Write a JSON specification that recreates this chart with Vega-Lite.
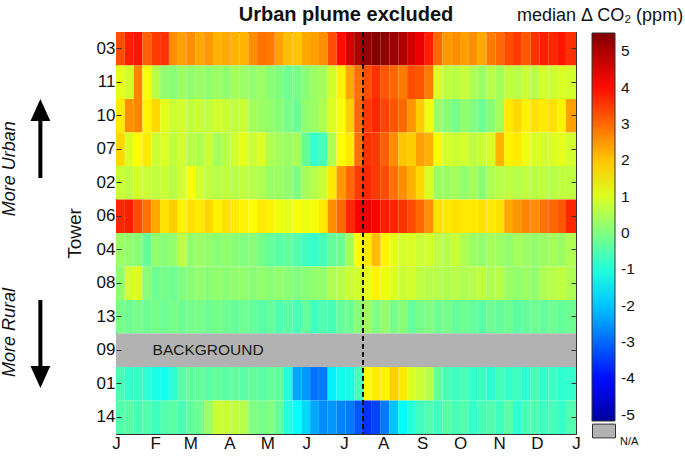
{
"$schema":"https://vega.github.io/schema/vega-lite/v6.json",
"width":460,"height":402,
"autosize":{"type":"none"},
"padding":{"left":116,"top":32,"right":109,"bottom":26},
"background":"white",
"title":{"text":"Urban plume excluded","fontSize":20,"fontWeight":"bold","font":"Liberation Sans","color":"#111","offset":0,"dy":18,"anchor":"middle"},
"config":{"view":{"stroke":"#333","strokeWidth":1},"axis":{"grid":false,"domain":false,"labelFont":"Liberation Sans","labelFontSize":17,"labelColor":"#111","tickColor":"#333","tickSize":-5,"titleFont":"Liberation Sans","titleFontWeight":"normal","titleColor":"#111"}},
"datasets":{
"cells":[
{"t":"03","a":0,"b":7,"v":3.3},{"t":"03","a":7,"b":14,"v":3.8},{"t":"03","a":14,"b":21,"v":3.9},{"t":"03","a":21,"b":28,"v":3.1},{"t":"03","a":28,"b":35,"v":3.5},{"t":"03","a":35,"b":42,"v":3.6},{"t":"03","a":42,"b":49,"v":2.6},{"t":"03","a":49,"b":56,"v":2.4},{"t":"03","a":56,"b":63,"v":2.6},{"t":"03","a":63,"b":70,"v":2.3},{"t":"03","a":70,"b":77,"v":2.5},{"t":"03","a":77,"b":84,"v":2.2},{"t":"03","a":84,"b":91,"v":2.3},{"t":"03","a":91,"b":98,"v":2.2},{"t":"03","a":98,"b":105,"v":2.2},{"t":"03","a":105,"b":112,"v":2.6},{"t":"03","a":112,"b":119,"v":2.9},{"t":"03","a":119,"b":126,"v":2.8},{"t":"03","a":126,"b":133,"v":2.4},{"t":"03","a":133,"b":140,"v":2.1},{"t":"03","a":140,"b":147,"v":2.0},{"t":"03","a":147,"b":154,"v":2.3},{"t":"03","a":154,"b":161,"v":2.4},{"t":"03","a":161,"b":168,"v":2.6},{"t":"03","a":168,"b":175,"v":3.3},{"t":"03","a":175,"b":182,"v":4.0},{"t":"03","a":182,"b":189,"v":4.6},{"t":"03","a":189,"b":196,"v":5.0},{"t":"03","a":196,"b":203,"v":5.3},{"t":"03","a":203,"b":210,"v":5.4},{"t":"03","a":210,"b":217,"v":5.3},{"t":"03","a":217,"b":224,"v":5.2},{"t":"03","a":224,"b":231,"v":5.0},{"t":"03","a":231,"b":238,"v":4.6},{"t":"03","a":238,"b":245,"v":4.3},{"t":"03","a":245,"b":252,"v":3.8},{"t":"03","a":252,"b":259,"v":3.0},{"t":"03","a":259,"b":266,"v":2.5},{"t":"03","a":266,"b":273,"v":2.6},{"t":"03","a":273,"b":280,"v":2.4},{"t":"03","a":280,"b":287,"v":2.6},{"t":"03","a":287,"b":294,"v":2.3},{"t":"03","a":294,"b":301,"v":2.8},{"t":"03","a":301,"b":308,"v":3.0},{"t":"03","a":308,"b":315,"v":3.3},{"t":"03","a":315,"b":322,"v":3.5},{"t":"03","a":322,"b":329,"v":3.2},{"t":"03","a":329,"b":336,"v":3.6},{"t":"03","a":336,"b":343,"v":3.8},{"t":"03","a":343,"b":350,"v":3.7},{"t":"03","a":350,"b":357,"v":3.9},{"t":"03","a":357,"b":365,"v":3.6},
{"t":"11","a":0,"b":7,"v":1.1},{"t":"11","a":7,"b":14,"v":0.9},{"t":"11","a":14,"b":21,"v":2.7},{"t":"11","a":21,"b":28,"v":1.3},{"t":"11","a":28,"b":35,"v":0.6},{"t":"11","a":35,"b":42,"v":0.2},{"t":"11","a":42,"b":49,"v":0.1},{"t":"11","a":49,"b":56,"v":0.3},{"t":"11","a":56,"b":63,"v":0.2},{"t":"11","a":63,"b":70,"v":0.3},{"t":"11","a":70,"b":77,"v":0.2},{"t":"11","a":77,"b":84,"v":0.3},{"t":"11","a":84,"b":91,"v":0.2},{"t":"11","a":91,"b":98,"v":0.4},{"t":"11","a":98,"b":105,"v":0.3},{"t":"11","a":105,"b":112,"v":0.2},{"t":"11","a":112,"b":119,"v":0.3},{"t":"11","a":119,"b":126,"v":0.1},{"t":"11","a":126,"b":133,"v":0.0},{"t":"11","a":133,"b":140,"v":-0.2},{"t":"11","a":140,"b":147,"v":-0.1},{"t":"11","a":147,"b":154,"v":0.1},{"t":"11","a":154,"b":161,"v":0.3},{"t":"11","a":161,"b":168,"v":0.4},{"t":"11","a":168,"b":175,"v":0.9},{"t":"11","a":175,"b":182,"v":1.5},{"t":"11","a":182,"b":189,"v":2.3},{"t":"11","a":189,"b":196,"v":2.9},{"t":"11","a":196,"b":203,"v":3.3},{"t":"11","a":203,"b":210,"v":3.6},{"t":"11","a":210,"b":217,"v":3.2},{"t":"11","a":217,"b":224,"v":3.0},{"t":"11","a":224,"b":231,"v":2.8},{"t":"11","a":231,"b":238,"v":3.3},{"t":"11","a":238,"b":245,"v":3.2},{"t":"11","a":245,"b":252,"v":2.8},{"t":"11","a":252,"b":259,"v":1.0},{"t":"11","a":259,"b":266,"v":0.7},{"t":"11","a":266,"b":273,"v":0.6},{"t":"11","a":273,"b":280,"v":0.8},{"t":"11","a":280,"b":287,"v":0.5},{"t":"11","a":287,"b":294,"v":0.3},{"t":"11","a":294,"b":301,"v":0.6},{"t":"11","a":301,"b":308,"v":0.4},{"t":"11","a":308,"b":315,"v":0.7},{"t":"11","a":315,"b":322,"v":0.6},{"t":"11","a":322,"b":329,"v":0.8},{"t":"11","a":329,"b":336,"v":0.6},{"t":"11","a":336,"b":343,"v":0.9},{"t":"11","a":343,"b":350,"v":0.8},{"t":"11","a":350,"b":357,"v":1.0},{"t":"11","a":357,"b":365,"v":0.9},
{"t":"10","a":0,"b":7,"v":1.6},{"t":"10","a":7,"b":14,"v":2.6},{"t":"10","a":14,"b":21,"v":2.7},{"t":"10","a":21,"b":28,"v":1.5},{"t":"10","a":28,"b":35,"v":1.8},{"t":"10","a":35,"b":42,"v":1.1},{"t":"10","a":42,"b":49,"v":0.8},{"t":"10","a":49,"b":56,"v":0.9},{"t":"10","a":56,"b":63,"v":0.7},{"t":"10","a":63,"b":70,"v":0.8},{"t":"10","a":70,"b":77,"v":0.7},{"t":"10","a":77,"b":84,"v":0.9},{"t":"10","a":84,"b":91,"v":0.8},{"t":"10","a":91,"b":98,"v":0.7},{"t":"10","a":98,"b":105,"v":0.8},{"t":"10","a":105,"b":112,"v":0.4},{"t":"10","a":112,"b":119,"v":0.3},{"t":"10","a":119,"b":126,"v":0.2},{"t":"10","a":126,"b":133,"v":0.1},{"t":"10","a":133,"b":140,"v":-0.1},{"t":"10","a":140,"b":147,"v":-0.2},{"t":"10","a":147,"b":154,"v":0.2},{"t":"10","a":154,"b":161,"v":0.3},{"t":"10","a":161,"b":168,"v":0.5},{"t":"10","a":168,"b":175,"v":1.0},{"t":"10","a":175,"b":182,"v":1.3},{"t":"10","a":182,"b":189,"v":1.9},{"t":"10","a":189,"b":196,"v":3.0},{"t":"10","a":196,"b":203,"v":3.5},{"t":"10","a":203,"b":210,"v":3.7},{"t":"10","a":210,"b":217,"v":3.4},{"t":"10","a":217,"b":224,"v":3.2},{"t":"10","a":224,"b":231,"v":3.0},{"t":"10","a":231,"b":238,"v":2.5},{"t":"10","a":238,"b":245,"v":1.9},{"t":"10","a":245,"b":252,"v":1.2},{"t":"10","a":252,"b":259,"v":0.3},{"t":"10","a":259,"b":266,"v":0.1},{"t":"10","a":266,"b":273,"v":-0.1},{"t":"10","a":273,"b":280,"v":0.2},{"t":"10","a":280,"b":287,"v":0.0},{"t":"10","a":287,"b":294,"v":-0.2},{"t":"10","a":294,"b":301,"v":0.1},{"t":"10","a":301,"b":308,"v":0.4},{"t":"10","a":308,"b":315,"v":1.6},{"t":"10","a":315,"b":322,"v":1.8},{"t":"10","a":322,"b":329,"v":1.5},{"t":"10","a":329,"b":336,"v":1.7},{"t":"10","a":336,"b":343,"v":1.6},{"t":"10","a":343,"b":350,"v":1.7},{"t":"10","a":350,"b":357,"v":1.5},{"t":"10","a":357,"b":365,"v":2.4},
{"t":"07","a":0,"b":7,"v":1.8},{"t":"07","a":7,"b":14,"v":1.0},{"t":"07","a":14,"b":21,"v":1.4},{"t":"07","a":21,"b":28,"v":1.6},{"t":"07","a":28,"b":35,"v":0.8},{"t":"07","a":35,"b":42,"v":1.0},{"t":"07","a":42,"b":49,"v":0.7},{"t":"07","a":49,"b":56,"v":0.9},{"t":"07","a":56,"b":63,"v":0.6},{"t":"07","a":63,"b":70,"v":0.5},{"t":"07","a":70,"b":77,"v":0.8},{"t":"07","a":77,"b":84,"v":0.4},{"t":"07","a":84,"b":91,"v":0.6},{"t":"07","a":91,"b":98,"v":0.9},{"t":"07","a":98,"b":105,"v":1.1},{"t":"07","a":105,"b":112,"v":0.8},{"t":"07","a":112,"b":119,"v":1.0},{"t":"07","a":119,"b":126,"v":0.5},{"t":"07","a":126,"b":133,"v":0.4},{"t":"07","a":133,"b":140,"v":0.3},{"t":"07","a":140,"b":147,"v":0.4},{"t":"07","a":147,"b":154,"v":-0.3},{"t":"07","a":154,"b":161,"v":-0.8},{"t":"07","a":161,"b":168,"v":-0.6},{"t":"07","a":168,"b":175,"v":0.5},{"t":"07","a":175,"b":182,"v":1.4},{"t":"07","a":182,"b":189,"v":1.6},{"t":"07","a":189,"b":196,"v":2.9},{"t":"07","a":196,"b":203,"v":3.6},{"t":"07","a":203,"b":210,"v":3.5},{"t":"07","a":210,"b":217,"v":3.1},{"t":"07","a":217,"b":224,"v":2.6},{"t":"07","a":224,"b":231,"v":2.0},{"t":"07","a":231,"b":238,"v":1.9},{"t":"07","a":238,"b":245,"v":2.4},{"t":"07","a":245,"b":252,"v":2.2},{"t":"07","a":252,"b":259,"v":1.4},{"t":"07","a":259,"b":266,"v":0.9},{"t":"07","a":266,"b":273,"v":0.8},{"t":"07","a":273,"b":280,"v":0.9},{"t":"07","a":280,"b":287,"v":0.7},{"t":"07","a":287,"b":294,"v":0.8},{"t":"07","a":294,"b":301,"v":1.0},{"t":"07","a":301,"b":308,"v":2.2},{"t":"07","a":308,"b":315,"v":1.5},{"t":"07","a":315,"b":322,"v":1.6},{"t":"07","a":322,"b":329,"v":1.2},{"t":"07","a":329,"b":336,"v":1.0},{"t":"07","a":336,"b":343,"v":0.9},{"t":"07","a":343,"b":350,"v":1.0},{"t":"07","a":350,"b":357,"v":1.1},{"t":"07","a":357,"b":365,"v":0.9},
{"t":"02","a":0,"b":7,"v":0.8},{"t":"02","a":7,"b":14,"v":0.7},{"t":"02","a":14,"b":21,"v":0.9},{"t":"02","a":21,"b":28,"v":0.8},{"t":"02","a":28,"b":35,"v":0.7},{"t":"02","a":35,"b":42,"v":0.8},{"t":"02","a":42,"b":49,"v":0.6},{"t":"02","a":49,"b":56,"v":0.9},{"t":"02","a":56,"b":63,"v":1.3},{"t":"02","a":63,"b":70,"v":0.9},{"t":"02","a":70,"b":77,"v":0.7},{"t":"02","a":77,"b":84,"v":0.6},{"t":"02","a":84,"b":91,"v":0.7},{"t":"02","a":91,"b":98,"v":0.6},{"t":"02","a":98,"b":105,"v":0.7},{"t":"02","a":105,"b":112,"v":0.6},{"t":"02","a":112,"b":119,"v":0.5},{"t":"02","a":119,"b":126,"v":0.3},{"t":"02","a":126,"b":133,"v":0.3},{"t":"02","a":133,"b":140,"v":0.2},{"t":"02","a":140,"b":147,"v":0.0},{"t":"02","a":147,"b":154,"v":0.4},{"t":"02","a":154,"b":161,"v":0.6},{"t":"02","a":161,"b":168,"v":0.8},{"t":"02","a":168,"b":175,"v":1.6},{"t":"02","a":175,"b":182,"v":2.5},{"t":"02","a":182,"b":189,"v":3.0},{"t":"02","a":189,"b":196,"v":3.5},{"t":"02","a":196,"b":203,"v":3.7},{"t":"02","a":203,"b":210,"v":3.5},{"t":"02","a":210,"b":217,"v":3.3},{"t":"02","a":217,"b":224,"v":2.9},{"t":"02","a":224,"b":231,"v":2.6},{"t":"02","a":231,"b":238,"v":2.2},{"t":"02","a":238,"b":245,"v":1.8},{"t":"02","a":245,"b":252,"v":1.0},{"t":"02","a":252,"b":259,"v":0.3},{"t":"02","a":259,"b":266,"v":0.3},{"t":"02","a":266,"b":273,"v":0.4},{"t":"02","a":273,"b":280,"v":0.2},{"t":"02","a":280,"b":287,"v":0.4},{"t":"02","a":287,"b":294,"v":0.1},{"t":"02","a":294,"b":301,"v":0.5},{"t":"02","a":301,"b":308,"v":0.6},{"t":"02","a":308,"b":315,"v":0.7},{"t":"02","a":315,"b":322,"v":0.6},{"t":"02","a":322,"b":329,"v":0.7},{"t":"02","a":329,"b":336,"v":0.6},{"t":"02","a":336,"b":343,"v":0.7},{"t":"02","a":343,"b":350,"v":0.6},{"t":"02","a":350,"b":357,"v":0.7},{"t":"02","a":357,"b":365,"v":0.7},
{"t":"06","a":0,"b":7,"v":3.7},{"t":"06","a":7,"b":14,"v":3.8},{"t":"06","a":14,"b":21,"v":3.3},{"t":"06","a":21,"b":28,"v":2.9},{"t":"06","a":28,"b":35,"v":2.3},{"t":"06","a":35,"b":42,"v":1.7},{"t":"06","a":42,"b":49,"v":1.9},{"t":"06","a":49,"b":56,"v":1.5},{"t":"06","a":56,"b":63,"v":1.7},{"t":"06","a":63,"b":70,"v":1.6},{"t":"06","a":70,"b":77,"v":1.8},{"t":"06","a":77,"b":84,"v":1.5},{"t":"06","a":84,"b":91,"v":1.7},{"t":"06","a":91,"b":98,"v":1.6},{"t":"06","a":98,"b":105,"v":1.5},{"t":"06","a":105,"b":112,"v":1.4},{"t":"06","a":112,"b":119,"v":1.6},{"t":"06","a":119,"b":126,"v":1.5},{"t":"06","a":126,"b":133,"v":1.2},{"t":"06","a":133,"b":140,"v":1.1},{"t":"06","a":140,"b":147,"v":1.3},{"t":"06","a":147,"b":154,"v":1.2},{"t":"06","a":154,"b":161,"v":1.3},{"t":"06","a":161,"b":168,"v":1.6},{"t":"06","a":168,"b":175,"v":2.6},{"t":"06","a":175,"b":182,"v":3.0},{"t":"06","a":182,"b":189,"v":3.7},{"t":"06","a":189,"b":196,"v":4.1},{"t":"06","a":196,"b":203,"v":4.3},{"t":"06","a":203,"b":210,"v":4.1},{"t":"06","a":210,"b":217,"v":3.8},{"t":"06","a":217,"b":224,"v":3.7},{"t":"06","a":224,"b":231,"v":3.6},{"t":"06","a":231,"b":238,"v":3.3},{"t":"06","a":238,"b":245,"v":3.0},{"t":"06","a":245,"b":252,"v":2.6},{"t":"06","a":252,"b":259,"v":1.7},{"t":"06","a":259,"b":266,"v":1.6},{"t":"06","a":266,"b":273,"v":1.7},{"t":"06","a":273,"b":280,"v":1.6},{"t":"06","a":280,"b":287,"v":1.6},{"t":"06","a":287,"b":294,"v":1.7},{"t":"06","a":294,"b":301,"v":1.6},{"t":"06","a":301,"b":308,"v":1.7},{"t":"06","a":308,"b":315,"v":2.3},{"t":"06","a":315,"b":322,"v":2.5},{"t":"06","a":322,"b":329,"v":2.7},{"t":"06","a":329,"b":336,"v":2.6},{"t":"06","a":336,"b":343,"v":2.9},{"t":"06","a":343,"b":350,"v":3.0},{"t":"06","a":350,"b":357,"v":3.2},{"t":"06","a":357,"b":365,"v":3.7},
{"t":"04","a":0,"b":7,"v":0.3},{"t":"04","a":7,"b":14,"v":0.2},{"t":"04","a":14,"b":21,"v":0.1},{"t":"04","a":21,"b":28,"v":-0.3},{"t":"04","a":28,"b":35,"v":0.2},{"t":"04","a":35,"b":42,"v":0.1},{"t":"04","a":42,"b":49,"v":0.2},{"t":"04","a":49,"b":56,"v":0.7},{"t":"04","a":56,"b":63,"v":0.2},{"t":"04","a":63,"b":70,"v":0.3},{"t":"04","a":70,"b":77,"v":0.2},{"t":"04","a":77,"b":84,"v":0.1},{"t":"04","a":84,"b":91,"v":0.2},{"t":"04","a":91,"b":98,"v":0.1},{"t":"04","a":98,"b":105,"v":0.0},{"t":"04","a":105,"b":112,"v":0.1},{"t":"04","a":112,"b":119,"v":-0.1},{"t":"04","a":119,"b":126,"v":-0.3},{"t":"04","a":126,"b":133,"v":-0.4},{"t":"04","a":133,"b":140,"v":-0.3},{"t":"04","a":140,"b":147,"v":-0.5},{"t":"04","a":147,"b":154,"v":-0.7},{"t":"04","a":154,"b":161,"v":-0.8},{"t":"04","a":161,"b":168,"v":-0.6},{"t":"04","a":168,"b":175,"v":-0.3},{"t":"04","a":175,"b":182,"v":-0.2},{"t":"04","a":182,"b":189,"v":0.4},{"t":"04","a":189,"b":196,"v":1.4},{"t":"04","a":196,"b":203,"v":1.6},{"t":"04","a":203,"b":210,"v":2.1},{"t":"04","a":210,"b":217,"v":1.5},{"t":"04","a":217,"b":224,"v":1.1},{"t":"04","a":224,"b":231,"v":0.9},{"t":"04","a":231,"b":238,"v":1.0},{"t":"04","a":238,"b":245,"v":0.8},{"t":"04","a":245,"b":252,"v":0.9},{"t":"04","a":252,"b":259,"v":0.7},{"t":"04","a":259,"b":266,"v":0.6},{"t":"04","a":266,"b":273,"v":0.8},{"t":"04","a":273,"b":280,"v":0.5},{"t":"04","a":280,"b":287,"v":0.3},{"t":"04","a":287,"b":294,"v":0.2},{"t":"04","a":294,"b":301,"v":0.4},{"t":"04","a":301,"b":308,"v":0.3},{"t":"04","a":308,"b":315,"v":0.2},{"t":"04","a":315,"b":322,"v":0.4},{"t":"04","a":322,"b":329,"v":0.3},{"t":"04","a":329,"b":336,"v":0.2},{"t":"04","a":336,"b":343,"v":0.3},{"t":"04","a":343,"b":350,"v":0.4},{"t":"04","a":350,"b":357,"v":0.3},{"t":"04","a":357,"b":365,"v":0.5},
{"t":"08","a":0,"b":7,"v":0.2},{"t":"08","a":7,"b":14,"v":0.9},{"t":"08","a":14,"b":21,"v":1.0},{"t":"08","a":21,"b":28,"v":0.1},{"t":"08","a":28,"b":35,"v":-0.2},{"t":"08","a":35,"b":42,"v":-0.1},{"t":"08","a":42,"b":49,"v":-0.2},{"t":"08","a":49,"b":56,"v":0.0},{"t":"08","a":56,"b":63,"v":0.1},{"t":"08","a":63,"b":70,"v":0.2},{"t":"08","a":70,"b":77,"v":0.1},{"t":"08","a":77,"b":84,"v":0.2},{"t":"08","a":84,"b":91,"v":0.1},{"t":"08","a":91,"b":98,"v":0.2},{"t":"08","a":98,"b":105,"v":0.2},{"t":"08","a":105,"b":112,"v":0.1},{"t":"08","a":112,"b":119,"v":0.2},{"t":"08","a":119,"b":126,"v":0.1},{"t":"08","a":126,"b":133,"v":0.2},{"t":"08","a":133,"b":140,"v":0.1},{"t":"08","a":140,"b":147,"v":0.0},{"t":"08","a":147,"b":154,"v":0.1},{"t":"08","a":154,"b":161,"v":0.2},{"t":"08","a":161,"b":168,"v":0.2},{"t":"08","a":168,"b":175,"v":0.5},{"t":"08","a":175,"b":182,"v":0.6},{"t":"08","a":182,"b":189,"v":0.8},{"t":"08","a":189,"b":196,"v":0.9},{"t":"08","a":196,"b":203,"v":1.1},{"t":"08","a":203,"b":210,"v":1.5},{"t":"08","a":210,"b":217,"v":1.2},{"t":"08","a":217,"b":224,"v":1.0},{"t":"08","a":224,"b":231,"v":0.8},{"t":"08","a":231,"b":238,"v":0.9},{"t":"08","a":238,"b":245,"v":0.7},{"t":"08","a":245,"b":252,"v":0.6},{"t":"08","a":252,"b":259,"v":0.6},{"t":"08","a":259,"b":266,"v":0.5},{"t":"08","a":266,"b":273,"v":0.6},{"t":"08","a":273,"b":280,"v":0.5},{"t":"08","a":280,"b":287,"v":0.6},{"t":"08","a":287,"b":294,"v":0.7},{"t":"08","a":294,"b":301,"v":0.5},{"t":"08","a":301,"b":308,"v":0.6},{"t":"08","a":308,"b":315,"v":0.3},{"t":"08","a":315,"b":322,"v":0.2},{"t":"08","a":322,"b":329,"v":0.3},{"t":"08","a":329,"b":336,"v":0.2},{"t":"08","a":336,"b":343,"v":0.5},{"t":"08","a":343,"b":350,"v":0.6},{"t":"08","a":350,"b":357,"v":0.7},{"t":"08","a":357,"b":365,"v":0.5},
{"t":"13","a":0,"b":7,"v":-0.1},{"t":"13","a":7,"b":14,"v":-0.2},{"t":"13","a":14,"b":21,"v":-0.1},{"t":"13","a":21,"b":28,"v":-0.2},{"t":"13","a":28,"b":35,"v":-0.1},{"t":"13","a":35,"b":42,"v":-0.2},{"t":"13","a":42,"b":49,"v":-0.1},{"t":"13","a":49,"b":56,"v":-0.2},{"t":"13","a":56,"b":63,"v":-0.1},{"t":"13","a":63,"b":70,"v":-0.1},{"t":"13","a":70,"b":77,"v":-0.2},{"t":"13","a":77,"b":84,"v":-0.1},{"t":"13","a":84,"b":91,"v":-0.2},{"t":"13","a":91,"b":98,"v":-0.3},{"t":"13","a":98,"b":105,"v":-0.2},{"t":"13","a":105,"b":112,"v":-0.3},{"t":"13","a":112,"b":119,"v":-0.4},{"t":"13","a":119,"b":126,"v":-0.3},{"t":"13","a":126,"b":133,"v":-0.5},{"t":"13","a":133,"b":140,"v":-0.4},{"t":"13","a":140,"b":147,"v":-0.6},{"t":"13","a":147,"b":154,"v":-0.3},{"t":"13","a":154,"b":161,"v":-0.7},{"t":"13","a":161,"b":168,"v":-0.5},{"t":"13","a":168,"b":175,"v":-0.6},{"t":"13","a":175,"b":182,"v":-0.3},{"t":"13","a":182,"b":189,"v":-0.2},{"t":"13","a":189,"b":196,"v":0.1},{"t":"13","a":196,"b":203,"v":0.3},{"t":"13","a":203,"b":210,"v":0.0},{"t":"13","a":210,"b":217,"v":0.2},{"t":"13","a":217,"b":224,"v":-0.1},{"t":"13","a":224,"b":231,"v":0.1},{"t":"13","a":231,"b":238,"v":-0.3},{"t":"13","a":238,"b":245,"v":-0.1},{"t":"13","a":245,"b":252,"v":0.0},{"t":"13","a":252,"b":259,"v":-0.2},{"t":"13","a":259,"b":266,"v":-0.1},{"t":"13","a":266,"b":273,"v":-0.3},{"t":"13","a":273,"b":280,"v":-0.2},{"t":"13","a":280,"b":287,"v":-0.3},{"t":"13","a":287,"b":294,"v":-0.4},{"t":"13","a":294,"b":301,"v":-0.2},{"t":"13","a":301,"b":308,"v":-0.3},{"t":"13","a":308,"b":315,"v":-0.2},{"t":"13","a":315,"b":322,"v":-0.4},{"t":"13","a":322,"b":329,"v":-0.3},{"t":"13","a":329,"b":336,"v":-0.2},{"t":"13","a":336,"b":343,"v":-0.3},{"t":"13","a":343,"b":350,"v":-0.2},{"t":"13","a":350,"b":357,"v":-0.3},{"t":"13","a":357,"b":365,"v":-0.2},
{"t":"01","a":0,"b":7,"v":-0.6},{"t":"01","a":7,"b":14,"v":-0.8},{"t":"01","a":14,"b":21,"v":-0.7},{"t":"01","a":21,"b":28,"v":-0.9},{"t":"01","a":28,"b":35,"v":-1.1},{"t":"01","a":35,"b":42,"v":-1.2},{"t":"01","a":42,"b":49,"v":-0.9},{"t":"01","a":49,"b":56,"v":-0.4},{"t":"01","a":56,"b":63,"v":-0.3},{"t":"01","a":63,"b":70,"v":-0.3},{"t":"01","a":70,"b":77,"v":-0.4},{"t":"01","a":77,"b":84,"v":-0.3},{"t":"01","a":84,"b":91,"v":-0.4},{"t":"01","a":91,"b":98,"v":-0.3},{"t":"01","a":98,"b":105,"v":-0.4},{"t":"01","a":105,"b":112,"v":-0.3},{"t":"01","a":112,"b":119,"v":-0.4},{"t":"01","a":119,"b":126,"v":-0.3},{"t":"01","a":126,"b":133,"v":-0.3},{"t":"01","a":133,"b":140,"v":-1.0},{"t":"01","a":140,"b":147,"v":-2.3},{"t":"01","a":147,"b":154,"v":-2.5},{"t":"01","a":154,"b":161,"v":-2.9},{"t":"01","a":161,"b":168,"v":-2.8},{"t":"01","a":168,"b":175,"v":-1.5},{"t":"01","a":175,"b":182,"v":-1.2},{"t":"01","a":182,"b":189,"v":-1.1},{"t":"01","a":189,"b":196,"v":-0.6},{"t":"01","a":196,"b":203,"v":1.3},{"t":"01","a":203,"b":210,"v":1.6},{"t":"01","a":210,"b":217,"v":1.5},{"t":"01","a":217,"b":224,"v":1.9},{"t":"01","a":224,"b":231,"v":1.6},{"t":"01","a":231,"b":238,"v":1.0},{"t":"01","a":238,"b":245,"v":0.8},{"t":"01","a":245,"b":252,"v":0.6},{"t":"01","a":252,"b":259,"v":-0.3},{"t":"01","a":259,"b":266,"v":-0.6},{"t":"01","a":266,"b":273,"v":-0.7},{"t":"01","a":273,"b":280,"v":-0.6},{"t":"01","a":280,"b":287,"v":-0.8},{"t":"01","a":287,"b":294,"v":-0.7},{"t":"01","a":294,"b":301,"v":-0.9},{"t":"01","a":301,"b":308,"v":-0.6},{"t":"01","a":308,"b":315,"v":-0.8},{"t":"01","a":315,"b":322,"v":-0.7},{"t":"01","a":322,"b":329,"v":-0.9},{"t":"01","a":329,"b":336,"v":-0.6},{"t":"01","a":336,"b":343,"v":-0.8},{"t":"01","a":343,"b":350,"v":-0.7},{"t":"01","a":350,"b":357,"v":-0.9},{"t":"01","a":357,"b":365,"v":-0.8},
{"t":"14","a":0,"b":7,"v":-0.5},{"t":"14","a":7,"b":14,"v":-0.4},{"t":"14","a":14,"b":21,"v":-0.6},{"t":"14","a":21,"b":28,"v":-0.5},{"t":"14","a":28,"b":35,"v":-0.7},{"t":"14","a":35,"b":42,"v":-0.5},{"t":"14","a":42,"b":49,"v":-0.4},{"t":"14","a":49,"b":56,"v":-0.6},{"t":"14","a":56,"b":63,"v":-0.3},{"t":"14","a":63,"b":70,"v":-0.2},{"t":"14","a":70,"b":77,"v":0.3},{"t":"14","a":77,"b":84,"v":0.8},{"t":"14","a":84,"b":91,"v":0.8},{"t":"14","a":91,"b":98,"v":0.7},{"t":"14","a":98,"b":105,"v":0.6},{"t":"14","a":105,"b":112,"v":0.0},{"t":"14","a":112,"b":119,"v":-0.1},{"t":"14","a":119,"b":126,"v":0.0},{"t":"14","a":126,"b":133,"v":-0.3},{"t":"14","a":133,"b":140,"v":-1.0},{"t":"14","a":140,"b":147,"v":-1.3},{"t":"14","a":147,"b":154,"v":-1.8},{"t":"14","a":154,"b":161,"v":-2.3},{"t":"14","a":161,"b":168,"v":-2.6},{"t":"14","a":168,"b":175,"v":-2.5},{"t":"14","a":175,"b":182,"v":-2.7},{"t":"14","a":182,"b":189,"v":-2.8},{"t":"14","a":189,"b":196,"v":-3.2},{"t":"14","a":196,"b":203,"v":-3.6},{"t":"14","a":203,"b":210,"v":-3.4},{"t":"14","a":210,"b":217,"v":-2.8},{"t":"14","a":217,"b":224,"v":-2.0},{"t":"14","a":224,"b":231,"v":-1.4},{"t":"14","a":231,"b":238,"v":-1.0},{"t":"14","a":238,"b":245,"v":-0.7},{"t":"14","a":245,"b":252,"v":-0.5},{"t":"14","a":252,"b":259,"v":-0.7},{"t":"14","a":259,"b":266,"v":-0.4},{"t":"14","a":266,"b":273,"v":-0.6},{"t":"14","a":273,"b":280,"v":-0.5},{"t":"14","a":280,"b":287,"v":-0.8},{"t":"14","a":287,"b":294,"v":-0.6},{"t":"14","a":294,"b":301,"v":-0.5},{"t":"14","a":301,"b":308,"v":-0.7},{"t":"14","a":308,"b":315,"v":-0.4},{"t":"14","a":315,"b":322,"v":-0.9},{"t":"14","a":322,"b":329,"v":-0.6},{"t":"14","a":329,"b":336,"v":-0.5},{"t":"14","a":336,"b":343,"v":-0.7},{"t":"14","a":343,"b":350,"v":-0.6},{"t":"14","a":350,"b":357,"v":-0.8},{"t":"14","a":357,"b":365,"v":-0.5}
],
"bg":[{"t":"09","a":0,"b":365,"s":"N/A","label":"BACKGROUND","lx":29}],
"plume":[{"d":196}],
"cbtitle":[{"x":450,"y":-0.33,"label":"median Δ CO₂ (ppm)"}],
"notes":[{"x":-84,"y":4.08,"label":"More Urban"},{"x":-84,"y":8.97,"label":"More Rural"}],
"shafts":[{"x":-60,"y":2.5,"y2":4.36},{"x":-60,"y":8.0,"y2":10.0}],
"heads":[{"x":-60,"y":2.33,"dir":"up"},{"x":-60,"y":10.3,"dir":"down"}]
},
"resolve":{"scale":{"y":"independent"}},
"layer":[
{"data":{"name":"cells"},"mark":{"type":"rect","strokeWidth":0},
 "encoding":{
  "x":{"field":"a","type":"quantitative","scale":{"domain":[0,365],"nice":false,"zero":false},
       "axis":{"orient":"bottom","title":null,"values":[0,31,59,90,120,151,181,212,243,273,304,334,365],"labelExpr":"['J','F','M','A','M','J','J','A','S','O','N','D','J'][indexof([0,31,59,90,120,151,181,212,243,273,304,334,365],datum.value)]","labelPadding":6,"labelFlush":false}},
  "x2":{"field":"b"},
  "y":{"field":"t","type":"nominal","scale":{"domain":["03","11","10","07","02","06","04","08","13","09","01","14"],"paddingInner":0,"paddingOuter":0},
       "axis":{"orient":"left","title":"Tower","titleFontSize":19,"titlePadding":12,"labelPadding":6}},
  "color":{"field":"v","type":"quantitative",
   "scale":{"type":"linear","domain":[-5.17,-4.125,-1.375,1.375,4.125,5.5],"range":["#00009e","#0000ff","#00ffff","#ffff00","#ff0000","#800000"],"interpolate":"rgb"},
   "legend":{"orient":"none","legendX":476,"legendY":1,"direction":"vertical","type":"gradient","gradientLength":388,"gradientThickness":23,"gradientStrokeColor":"#333","gradientStrokeWidth":1,"values":[-5,-4,-3,-2,-1,0,1,2,3,4,5],"labelExpr":"'' + datum.value","labelFontSize":15.5,"labelFont":"Liberation Sans","labelColor":"#111","labelOffset":6,"title":null}}
 }},
{"data":{"name":"bg"},"mark":{"type":"rect","strokeWidth":0},
 "encoding":{
  "x":{"field":"a","type":"quantitative","scale":{"domain":[0,365],"nice":false,"zero":false},
       "axis":{"orient":"top","title":null,"labels":false,"values":[0,31,59,90,120,151,181,212,243,273,304,334,365]}},
  "x2":{"field":"b"},
  "y":{"field":"t","type":"nominal","scale":{"domain":["03","11","10","07","02","06","04","08","13","09","01","14"],"paddingInner":0,"paddingOuter":0},
       "axis":{"orient":"right","title":null,"labels":false}},
  "fill":{"field":"s","type":"nominal","scale":{"domain":["N/A"],"range":["#b2b2b2"]},
   "legend":{"orient":"none","legendX":476,"legendY":387,"title":null,"symbolType":"M-1,-0.6H1V0.6H-1Z","symbolSize":529,"symbolStrokeColor":"#333","symbolStrokeWidth":1,"symbolOpacity":1,"labelFontSize":11,"labelFont":"Liberation Sans","labelColor":"#111","labelOffset":4,"encoding":{"labels":{"dy":{"value":11}}}}}
 }},
{"data":{"name":"bg"},"mark":{"type":"text","align":"left","baseline":"middle","fontSize":15.5,"font":"Liberation Sans","color":"#1a1a1a"},
 "encoding":{
  "x":{"field":"lx","type":"quantitative","scale":{"domain":[0,365],"nice":false,"zero":false},"axis":null},
  "y":{"field":"t","type":"nominal","scale":{"domain":["03","11","10","07","02","06","04","08","13","09","01","14"],"paddingInner":0,"paddingOuter":0},"axis":null},
  "text":{"field":"label"}
 }},
{"data":{"name":"plume"},"mark":{"type":"rule","color":"#111","strokeWidth":2,"strokeDash":[5,3]},
 "encoding":{"x":{"field":"d","type":"quantitative","scale":{"domain":[0,365],"nice":false,"zero":false},"axis":null}}},
{"data":{"name":"cbtitle"},"mark":{"type":"text","align":"right","baseline":"alphabetic","fontSize":18,"font":"Liberation Sans","color":"#111"},
 "encoding":{
  "x":{"field":"x","type":"quantitative","scale":{"domain":[0,365],"nice":false,"zero":false},"axis":null},
  "y":{"field":"y","type":"quantitative","scale":{"domain":[0,12],"reverse":true,"nice":false,"zero":false},"axis":null},
  "text":{"field":"label"}
 }},
{"data":{"name":"notes"},"mark":{"type":"text","angle":270,"align":"center","baseline":"middle","fontSize":18,"fontStyle":"italic","font":"Liberation Sans","color":"#111"},
 "encoding":{
  "x":{"field":"x","type":"quantitative","scale":{"domain":[0,365],"nice":false,"zero":false},"axis":null},
  "y":{"field":"y","type":"quantitative","scale":{"domain":[0,12],"reverse":true,"nice":false,"zero":false},"axis":null},
  "text":{"field":"label"}
 }},
{"data":{"name":"shafts"},"mark":{"type":"rule","color":"#000","strokeWidth":4},
 "encoding":{
  "x":{"field":"x","type":"quantitative","scale":{"domain":[0,365],"nice":false,"zero":false},"axis":null},
  "y":{"field":"y","type":"quantitative","scale":{"domain":[0,12],"reverse":true,"nice":false,"zero":false},"axis":null},
  "y2":{"field":"y2"}
 }},
{"data":{"name":"heads"},"mark":{"type":"point","filled":true,"color":"#000","opacity":1,"size":484,"strokeWidth":0},
 "encoding":{
  "x":{"field":"x","type":"quantitative","scale":{"domain":[0,365],"nice":false,"zero":false},"axis":null},
  "y":{"field":"y","type":"quantitative","scale":{"domain":[0,12],"reverse":true,"nice":false,"zero":false},"axis":null},
  "shape":{"field":"dir","type":"nominal","scale":{"domain":["up","down"],"range":["M0,-1L0.9,1L-0.9,1Z","M0,1L0.9,-1L-0.9,-1Z"]},"legend":null}
 }}
]
}
